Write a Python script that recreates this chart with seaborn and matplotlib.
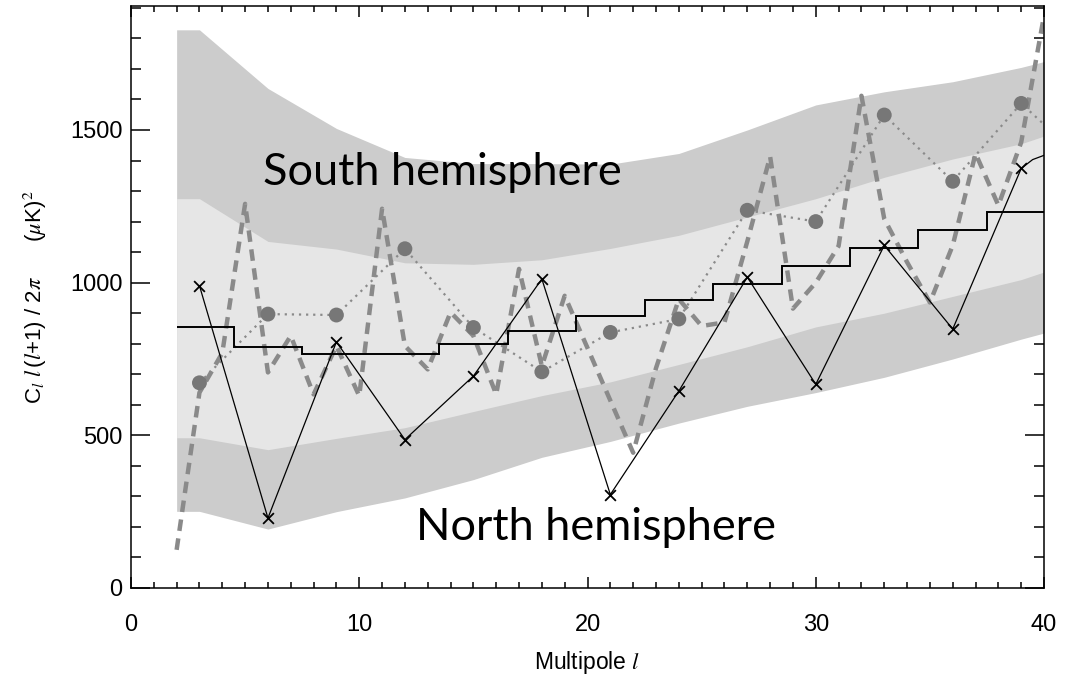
import matplotlib
matplotlib.use("Agg")
import matplotlib.pyplot as plt
import numpy as np
import pandas as pd
import seaborn as sns
from matplotlib.ticker import MultipleLocator

# multipole grid of the full-sky dashed spectrum
ell_all = list(range(2, 41))
cl_full = [125, 640, 770, 1258, 706, 826, 634, 793, 629, 1242,
           793, 716, 903, 826, 634, 1045, 727, 957, 786, 614,
           443, 720, 946, 858, 870, 1135, 1413, 915, 1000, 1120,
           1612, 1209, 1067, 935, 1122, 1423, 1253, 1460, 1875]

# binned multipoles (every 3)
ell_bin = [3, 6, 9, 12, 15, 18, 21, 24, 27, 30, 33, 36, 39]
cl_south = [672, 897, 894, 1111, 853, 708, 837, 881, 1237, 1200, 1549, 1332, 1587]
cl_south_end = 1518
cl_north = [990, 229, 806, 486, 694, 1012, 306, 645, 1018, 667, 1122, 848, 1374]
ell_north_tail = [39.5, 40]
cl_north_tail = [1403, 1417]

# model step spectrum
step_edges = [2, 4.5, 7.5, 10.5, 13.5, 16.5, 19.5, 22.5, 25.5, 28.5, 31.5, 34.5, 37.5, 40]
step_vals = [856, 790, 767, 767, 798, 842, 891, 943, 996, 1056, 1113, 1171, 1231]

# cosmic variance bands
ell_band = [2, 3, 6, 9, 12, 15, 18, 21, 24, 27, 30, 33, 36, 39, 40]
band_outer_hi = [1828, 1828, 1636, 1505, 1410, 1390, 1390, 1388, 1423, 1500, 1582, 1625, 1658, 1705, 1724]
band_inner_hi = [1275, 1275, 1135, 1110, 1065, 1060, 1075, 1112, 1155, 1215, 1275, 1345, 1405, 1455, 1480]
band_inner_lo = [492, 492, 453, 490, 525, 578, 630, 675, 732, 790, 855, 900, 955, 1010, 1035]
band_outer_lo = [251, 251, 193, 250, 295, 355, 428, 480, 540, 595, 640, 690, 750, 815, 835]

sns.set_style("ticks")
plt.rcParams['font.family'] = ['Liberation Sans', 'DejaVu Sans']
plt.rcParams['mathtext.fontset'] = 'stix'
for key in ['text.color', 'axes.labelcolor', 'xtick.color', 'ytick.color', 'axes.edgecolor']:
    plt.rcParams[key] = 'black'

fig = plt.figure(figsize=(10.78, 6.75), dpi=100)
ax = fig.add_axes([0.1215, 0.1289, 0.8470, 0.8622])

dark = '#cccccc'
light = '#e6e6e6'
ax.fill_between(ell_band, band_outer_lo, band_outer_hi, color=dark, lw=0)
ax.fill_between(ell_band, band_inner_lo, band_inner_hi, color=light, lw=0)

full_df = pd.DataFrame({'ell': ell_all, 'cl': cl_full})
sns.lineplot(data=full_df, x='ell', y='cl', ax=ax, color='#8a8a8a', lw=3.2,
             linestyle=(0, (2.6, 1.7)), estimator=None, sort=False)

south_df = pd.DataFrame({'ell': ell_bin + [40], 'cl': cl_south + [cl_south_end]})
sns.lineplot(data=south_df, x='ell', y='cl', ax=ax, color='#8a8a8a', lw=1.6,
             linestyle=(0, (1, 2.2)), estimator=None, sort=False)
sns.scatterplot(x=ell_bin, y=cl_south, ax=ax, color='#777777', s=115,
                marker='o', edgecolor='none', zorder=4)

ax.stairs(step_vals, step_edges, color='black', lw=1.4, baseline=None, zorder=5)

north_df = pd.DataFrame({'ell': ell_bin + ell_north_tail, 'cl': cl_north + cl_north_tail})
sns.lineplot(data=north_df, x='ell', y='cl', ax=ax, color='black', lw=0.9,
             estimator=None, sort=False, zorder=6)
sns.scatterplot(x=ell_bin, y=cl_north, ax=ax, color='black', s=60,
                marker='x', linewidth=1.3, zorder=7)

ax.text(5.78, 1319, 'South hemisphere', fontsize=32.5, family=['Lato', 'DejaVu Sans'],
        color='black', ha='left', va='baseline', zorder=8)
ax.text(12.47, 158, 'North hemisphere', fontsize=32.5, family=['Lato', 'DejaVu Sans'],
        color='black', ha='left', va='baseline', zorder=8)

ax.set_xlim(0, 40)
ax.set_ylim(0, 1906)
ax.xaxis.set_major_locator(MultipleLocator(10))
ax.xaxis.set_minor_locator(MultipleLocator(1))
ax.yaxis.set_major_locator(MultipleLocator(500))
ax.yaxis.set_minor_locator(MultipleLocator(100))
ax.tick_params(axis='both', which='both', direction='in', top=True, right=True,
               width=1.1, labelsize=17, colors='black')
ax.tick_params(axis='x', which='major', length=8, pad=19)
ax.tick_params(axis='x', which='minor', length=4.5)
ax.tick_params(axis='y', which='major', length=14, pad=6)
ax.tick_params(axis='y', which='minor', length=7.5)
for sp in ax.spines.values():
    sp.set_linewidth(1.1)
    sp.set_color('black')

ax.set_xlabel('Multipole $l$', fontsize=16.5, labelpad=9)
ax.set_ylabel(r'C$_l$ $l\,$($l$+1) / 2$\pi$      ($\mu$K)$^{2}$', fontsize=16, labelpad=15)

fig.savefig('out.png', dpi=100)
